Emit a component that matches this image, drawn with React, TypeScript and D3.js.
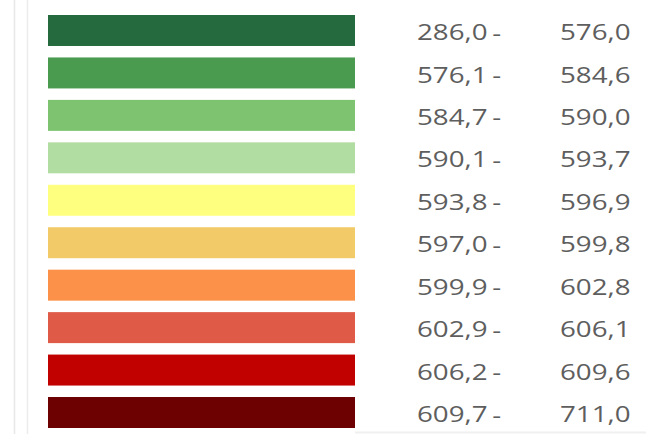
import React from 'react';
import { scaleBand } from 'd3';

const lowerBounds = ['286,0', '576,1', '584,7', '590,1', '593,8', '597,0', '599,9', '602,9', '606,2', '609,7'];
const upperBounds = ['576,0', '584,6', '590,0', '593,7', '596,9', '599,8', '602,8', '606,1', '609,6', '711,0'];
const swatchColors = [
  '#256a3f', '#4a9a4f', '#7ec470', '#b2dda2', '#ffff7f',
  '#f2cb68', '#fc9149', '#df5b48', '#c10000', '#6d0000',
];

const width = 646;
const height = 434;

export default function App() {
  const rows = lowerBounds.map((lo, i) => ({ lo, hi: upperBounds[i], color: swatchColors[i] }));

  const y = scaleBand<number>()
    .domain(rows.map((_, i) => i))
    .range([15, 428])
    .paddingInner(0.27)
    .paddingOuter(0);

  const textStyle = {
    fontFamily: "'Open Sans', sans-serif",
    fontSize: 21,
    fill: '#5e5e5e',
  };

  return (
    <svg
      width={width}
      height={height}
      viewBox={`0 0 ${width} ${height}`}
      style={{ position: 'absolute', left: 0, top: 0, display: 'block', background: '#ffffff' }}
    >
      <rect width={width} height={height} fill="#ffffff" />
      {/* faint panel borders on the left */}
      <line x1={14.5} x2={14.5} y1={0} y2={height} stroke="#e8e8e8" strokeWidth={1.5} />
      <line x1={27.5} x2={27.5} y1={0} y2={height} stroke="#ececec" strokeWidth={1.5} />
      <line x1={355} x2={646} y1={432.5} y2={432.5} stroke="#f0f0f0" strokeWidth={2} />

      {rows.map((d, i) => {
        const top = y(i) ?? 0;
        const cy = top + y.bandwidth() / 2 + 1.5;
        return (
          <g key={i}>
            <rect x={48} y={top} width={307} height={y.bandwidth()} fill={d.color} />
            <text
              transform={`translate(417,${cy}) scale(1.32,1)`}
              dominantBaseline="central"
              style={textStyle}
            >
              {d.lo}
              <tspan dx={3.5}>-</tspan>
            </text>
            <text
              transform={`translate(560,${cy}) scale(1.32,1)`}
              dominantBaseline="central"
              style={textStyle}
            >
              {d.hi}
            </text>
          </g>
        );
      })}
    </svg>
  );
}
